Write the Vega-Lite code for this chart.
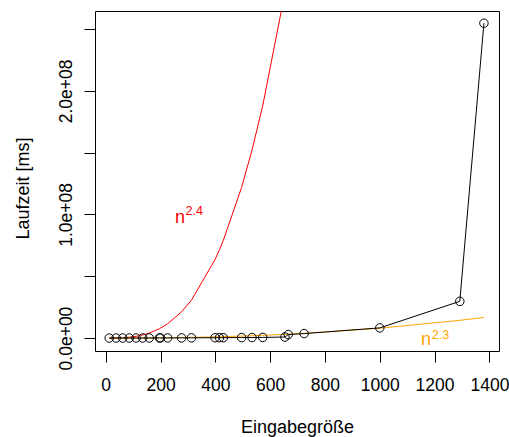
{
  "$schema": "https://vega.github.io/schema/vega-lite/v6.json",
  "width": 404,
  "height": 340,
  "autosize": "none",
  "padding": {"left": 95, "top": 11, "right": 10, "bottom": 86},
  "background": "white",
  "config": {
    "view": {"stroke": "black", "strokeWidth": 1},
    "font": "Liberation Sans",
    "axis": {"domain": false, "grid": false, "tickColor": "black", "tickWidth": 1, "tickSize": 11, "labelColor": "black", "labelFont": "Liberation Sans", "labelFontSize": 17.5, "titleFont": "Liberation Sans", "titleFontSize": 18, "titleFontWeight": "normal", "titleColor": "black"}
  },
  "datasets": {
    "obs": [
      {"n": 13, "t": 120, "r": 2197, "o": 365},
      {"n": 38, "t": 1200, "r": 54872, "o": 4299},
      {"n": 62, "t": 4000, "r": 238328, "o": 13260},
      {"n": 86, "t": 8500, "r": 636056, "o": 28170},
      {"n": 111, "t": 15000, "r": 1367631, "o": 50600},
      {"n": 135, "t": 24000, "r": 2460375, "o": 79500},
      {"n": 159, "t": 35000, "r": 4019679, "o": 115900},
      {"n": 196, "t": 55000, "r": 7529536, "o": 187200},
      {"n": 200, "t": 58000, "r": 8000000, "o": 196000},
      {"n": 226, "t": 75000, "r": 11543176, "o": 259700},
      {"n": 277, "t": 115000, "r": 21253933, "o": 414700},
      {"n": 313, "t": 150000, "r": 30664297, "o": 549300},
      {"n": 399, "t": 240000, "r": 63521199, "o": 960000},
      {"n": 415, "t": 260000, "r": 71473375, "o": 1051000},
      {"n": 429, "t": 280000, "r": 78953589, "o": 1134000},
      {"n": 496, "t": 370000, "r": 122023936, "o": 1584000},
      {"n": 534, "t": 430000, "r": 152273304, "o": 1876000},
      {"n": 573, "t": 500000, "r": 188132517, "o": 2207000},
      {"n": 654, "t": 800000, "r": 279726264, "o": 2992000},
      {"n": 666, "t": 2800000, "r": 295408296, "o": 3120000},
      {"n": 724, "t": 3600000, "o": 3778000},
      {"n": 1000, "t": 8200000, "o": 7943000},
      {"n": 1292, "t": 29700000, "o": 14318000},
      {"n": 1380, "t": 254800000, "o": 16660000}
    ],
    "main": [
      {"curve": "a", "x": 271, "y": 92950000, "txt": "n"},
      {"curve": "b", "x": 1169, "y": -5900000, "txt": "n"}
    ],
    "sup": [
      {"curve": "a", "x": 291, "y": 99400000, "txt": "2.4"},
      {"curve": "b", "x": 1190, "y": -490000, "txt": "2.3"}
    ]
  },
  "layer": [
    {
      "data": {"name": "obs"},
      "mark": {"type": "line", "color": "#FF0000", "strokeWidth": 1, "clip": true},
      "encoding": {
        "x": {"field": "n", "type": "quantitative", "scale": {"domain": [-39, 1435], "nice": false, "zero": false},
          "axis": {"values": [0, 200, 400, 600, 800, 1000, 1200, 1400], "format": "d", "labelPadding": 14, "labelBaseline": "top", "labelBound": false, "labelOverlap": false, "title": "Eingabegröße", "titleX": 202, "titleY": 81, "titleBaseline": "alphabetic", "titleAlign": "center"}},
        "y": {"field": "r", "type": "quantitative", "scale": {"domain": [-10500000, 264700000], "nice": false, "zero": false},
          "axis": {"values": [0, 50000000, 100000000, 150000000, 200000000, 250000000], "labelAngle": 270, "labelAlign": "center", "labelBaseline": "alphabetic", "labelPadding": 13, "labelOverlap": false,
            "labelExpr": "datum.value == 0 ? '0.0e+00' : datum.value == 100000000 ? '1.0e+08' : datum.value == 200000000 ? '2.0e+08' : ''",
            "title": "Laufzeit [ms]", "titleAngle": 270, "titleX": -67, "titleY": 177, "titleBaseline": "alphabetic", "titleAlign": "center"}}
      }
    },
    {
      "data": {"name": "obs"},
      "mark": {"type": "line", "color": "#FFA500", "strokeWidth": 1, "clip": true},
      "encoding": {
        "x": {"field": "n", "type": "quantitative"},
        "y": {"field": "o", "type": "quantitative"}
      }
    },
    {
      "data": {"name": "obs"},
      "mark": {"type": "line", "color": "black", "strokeWidth": 1, "clip": true},
      "encoding": {
        "x": {"field": "n", "type": "quantitative"},
        "y": {"field": "t", "type": "quantitative"}
      }
    },
    {
      "data": {"name": "obs"},
      "mark": {"type": "point", "shape": "circle", "filled": false, "color": "black", "strokeWidth": 1, "size": 72, "opacity": 1},
      "encoding": {
        "x": {"field": "n", "type": "quantitative"},
        "y": {"field": "t", "type": "quantitative"}
      }
    },
    {
      "data": {"name": "main"},
      "mark": {"type": "text", "fontSize": 18, "align": "center", "baseline": "alphabetic", "font": "Liberation Sans"},
      "encoding": {
        "x": {"field": "x", "type": "quantitative"},
        "y": {"field": "y", "type": "quantitative"},
        "text": {"field": "txt"},
        "color": {"field": "curve", "type": "nominal", "scale": {"domain": ["a", "b"], "range": ["#FF0000", "#FFA500"]}, "legend": null}
      }
    },
    {
      "data": {"name": "sup"},
      "mark": {"type": "text", "fontSize": 12.6, "align": "left", "baseline": "alphabetic", "font": "Liberation Sans"},
      "encoding": {
        "x": {"field": "x", "type": "quantitative"},
        "y": {"field": "y", "type": "quantitative"},
        "text": {"field": "txt"},
        "color": {"field": "curve", "type": "nominal", "scale": {"domain": ["a", "b"], "range": ["#FF0000", "#FFA500"]}, "legend": null}
      }
    }
  ]
}
